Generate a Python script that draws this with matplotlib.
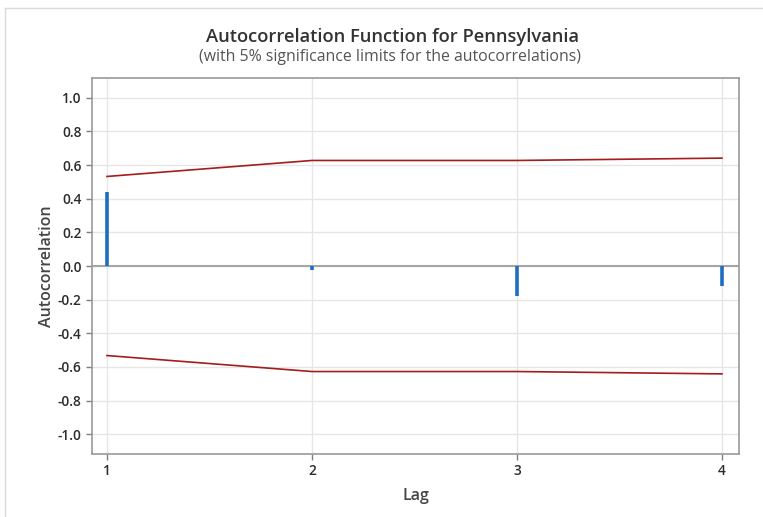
import matplotlib
matplotlib.use("Agg")
import matplotlib.pyplot as plt
from matplotlib.lines import Line2D

lags = [1, 2, 3, 4]
acf_values = [0.44, -0.025, -0.176, -0.117]
sig_limits = [0.532, 0.627, 0.627, 0.641]
y_ticks = [-1.0, -0.8, -0.6, -0.4, -0.2, 0.0, 0.2, 0.4, 0.6, 0.8, 1.0]
x_ticks = [1, 2, 3, 4]

plt.rcParams['font.family'] = ['Open Sans', 'DejaVu Sans']

W, H = 763, 517
fig = plt.figure(figsize=(W / 100, H / 100), dpi=100)
ax = fig.add_axes([92 / W, 1 - 454 / H, (739 - 92) / W, (454 - 78) / H])

# frame border of the figure (left and top)
fig.add_artist(Line2D([5 / W, 5 / W], [0, 1 - 8 / H], transform=fig.transFigure, color='#D9D9D9', lw=1))
fig.add_artist(Line2D([5 / W, 1], [1 - 8 / H, 1 - 8 / H], transform=fig.transFigure, color='#D9D9D9', lw=1))

ax.set_xlim(0.927, 4.083)
ax.set_ylim(-1.117, 1.117)

ax.set_axisbelow(True)
ax.grid(True, color='#E6E6E6', lw=1)
ax.axhline(0, color='#A6A6A6', lw=1.5, zorder=2)

ax.vlines(lags, 0, acf_values, color='#1F6DBE', lw=2.6, zorder=3)
ax.plot(lags, sig_limits, color='#A51C1C', lw=1.2, zorder=3)
ax.plot(lags, [-v for v in sig_limits], color='#A51C1C', lw=1.2, zorder=3)

ax.set_yticks(y_ticks)
ax.set_yticklabels([f"{v:.1f}" for v in y_ticks])
ax.set_xticks(x_ticks)
ax.set_xticklabels([str(v) for v in x_ticks])
ax.tick_params(axis='both', colors='#7F7F7F', labelcolor='#2B2B2B', labelsize=9.8, length=4, width=1)
for lab in ax.get_xticklabels() + ax.get_yticklabels():
    lab.set_fontweight('semibold')
for s in ax.spines.values():
    s.set_color('#999999')
    s.set_linewidth(1.2)

ax.set_xlabel('Lag', fontsize=11.5, fontweight='semibold', color='#444444', labelpad=7)
ax.set_ylabel('Autocorrelation', fontsize=11.5, fontweight='semibold', color='#444444', labelpad=2)

fig.text(392 / W, 1 - 37 / H, 'Autocorrelation Function for Pennsylvania', ha='center', va='center',
         fontsize=13.2, fontweight='semibold', color='#333333')
fig.text(390 / W, 1 - 57 / H, '(with 5% significance limits for the autocorrelations)', ha='center', va='center',
         fontsize=11.4, color='#555555')

fig.savefig('out.png', dpi=100)
